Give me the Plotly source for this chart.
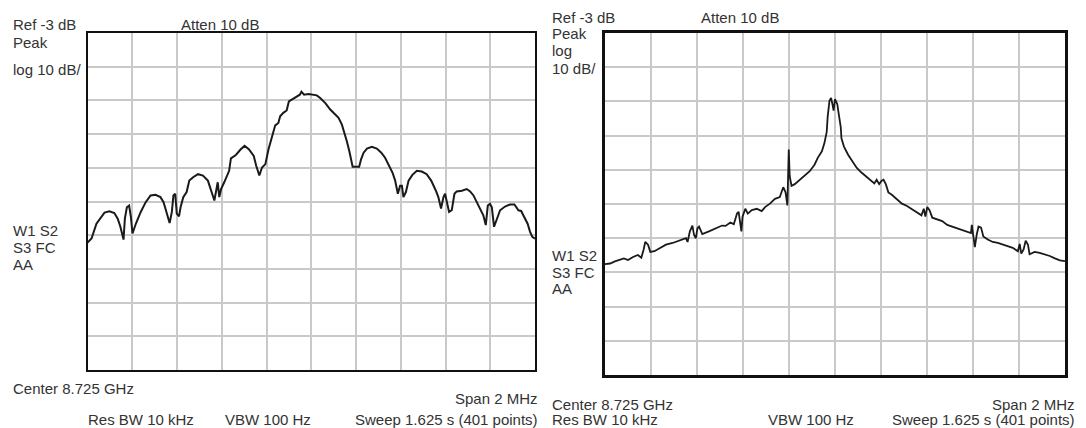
import plotly.graph_objects as go

W, H = 1086, 428

# ---- data (frequency offset from 8.725 GHz in MHz, level in dB) ----
left_freq = [-1.000, -0.982, -0.960, -0.938, -0.924, -0.902, -0.880, -0.865, -0.853, -0.839,
             -0.833, -0.824, -0.814, -0.806, -0.799, -0.784, -0.762, -0.740, -0.718, -0.696,
             -0.674, -0.660, -0.645, -0.633, -0.623, -0.616, -0.608, -0.601, -0.591, -0.584,
             -0.572, -0.557, -0.545, -0.528, -0.506, -0.484, -0.462, -0.447, -0.433, -0.425,
             -0.418, -0.411, -0.403, -0.389, -0.367, -0.359, -0.337, -0.315, -0.298, -0.279,
             -0.257, -0.246, -0.232, -0.220, -0.205, -0.191, -0.176, -0.161, -0.147, -0.139,
             -0.125, -0.110, -0.100, -0.073, -0.051, -0.044, -0.032, -0.012, 0.003, 0.025,
             0.040, 0.063, 0.085, 0.107, 0.122, 0.137, 0.149, 0.159, 0.170, 0.179,
             0.185, 0.196, 0.214, 0.223, 0.234, 0.249, 0.271, 0.293, 0.313, 0.330,
             0.348, 0.363, 0.375, 0.387, 0.397, 0.405, 0.412, 0.423, 0.435, 0.452,
             0.472, 0.494, 0.516, 0.536, 0.557, 0.568, 0.580, 0.591, 0.598, 0.607,
             0.616, 0.628, 0.640, 0.650, 0.673, 0.695, 0.710, 0.725, 0.740, 0.754,
             0.769, 0.780, 0.789, 0.799, 0.807, 0.817, 0.829, 0.844, 0.866, 0.888,
             0.908, 0.926, 0.938, 0.952, 0.967, 0.978, 0.988, 1.000]
left_level = [-65.2, -64.0, -59.6, -57.6, -56.3, -55.9, -56.4, -58.1, -60.5, -64.3,
              -58.1, -54.7, -54.2, -57.6, -62.5, -59.6, -56.1, -53.2, -51.2, -51.0,
              -51.7, -53.2, -56.6, -59.4, -56.1, -51.2, -50.7, -56.6, -57.4, -54.7,
              -51.7, -50.2, -46.8, -45.8, -44.9, -45.3, -46.8, -49.8, -52.7, -49.8,
              -47.3, -51.7, -49.3, -47.3, -43.9, -40.2, -39.2, -37.5, -36.5, -37.5,
              -39.5, -42.4, -45.3, -42.9, -41.9, -37.5, -34.1, -30.4, -29.7, -27.7,
              -26.7, -26.0, -23.3, -22.3, -21.3, -20.4, -21.3, -21.1, -21.3, -21.5,
              -22.3, -23.8, -25.7, -27.2, -28.2, -30.2, -32.6, -35.1, -38.0, -40.9,
              -42.7, -42.7, -42.7, -40.4, -38.5, -37.3, -36.8, -37.3, -38.5, -40.0,
              -42.4, -44.4, -46.8, -50.7, -48.3, -48.3, -51.7, -50.2, -46.8, -45.1,
              -43.9, -44.1, -44.9, -46.8, -49.8, -51.7, -55.1, -51.7, -50.7, -53.2,
              -56.1, -55.6, -50.7, -50.0, -49.8, -49.3, -50.0, -51.2, -53.2, -55.1,
              -57.1, -60.0, -54.2, -53.7, -54.7, -60.5, -58.1, -55.6, -54.5, -53.9,
              -53.9, -55.6, -55.8, -57.6, -59.6, -62.0, -63.5, -64.0]

right_freq = [-1.000, -0.978, -0.957, -0.935, -0.918, -0.900, -0.878, -0.857, -0.842, -0.832,
              -0.825, -0.813, -0.803, -0.785, -0.763, -0.735, -0.706, -0.677, -0.648, -0.641,
              -0.631, -0.620, -0.613, -0.605, -0.598, -0.591, -0.577, -0.548, -0.519, -0.491,
              -0.476, -0.455, -0.440, -0.426, -0.419, -0.412, -0.407, -0.402, -0.390, -0.379,
              -0.362, -0.340, -0.319, -0.304, -0.283, -0.261, -0.240, -0.225, -0.215, -0.207,
              -0.201, -0.197, -0.189, -0.175, -0.154, -0.132, -0.110, -0.089, -0.075, -0.057,
              -0.046, -0.036, -0.032, -0.024, -0.017, -0.010, -0.006, 0.000, 0.010, 0.016,
              0.025, 0.028, 0.039, 0.057, 0.075, 0.094, 0.115, 0.137, 0.159, 0.171,
              0.181, 0.192, 0.203, 0.211, 0.221, 0.232, 0.247, 0.269, 0.291, 0.313,
              0.335, 0.357, 0.376, 0.386, 0.393, 0.401, 0.411, 0.423, 0.444, 0.466,
              0.488, 0.510, 0.532, 0.554, 0.576, 0.591, 0.595, 0.601, 0.608, 0.616,
              0.624, 0.635, 0.645, 0.664, 0.686, 0.708, 0.730, 0.751, 0.773, 0.795,
              0.803, 0.810, 0.820, 0.829, 0.839, 0.846, 0.868, 0.890, 0.912, 0.934,
              0.956, 0.978, 1.000]
right_level = [-70.6, -70.4, -69.8, -69.2, -68.9, -69.4, -68.5, -67.9, -68.7, -66.3,
               -64.1, -64.9, -67.0, -66.8, -66.0, -64.9, -64.4, -63.7, -63.0, -64.1,
               -61.0, -59.3, -62.0, -63.0, -60.1, -59.6, -61.8, -61.0, -60.1, -59.3,
               -59.4, -58.4, -58.9, -55.8, -55.3, -59.1, -61.0, -56.7, -54.4, -55.8,
               -54.8, -54.4, -55.1, -53.9, -52.9, -51.5, -51.0, -48.1, -49.6, -53.4,
               -37.1, -44.8, -47.7, -47.2, -45.9, -44.8, -43.4, -41.5, -39.5, -37.6,
               -35.2, -31.9, -27.6, -22.8, -22.0, -24.2, -25.7, -22.3, -23.8, -26.6,
               -30.5, -33.8, -36.2, -38.6, -40.5, -42.4, -43.8, -45.0, -46.2, -47.0,
               -45.9, -47.2, -46.2, -45.9, -47.2, -49.6, -50.3, -51.7, -52.9, -53.6,
               -54.5, -55.5, -56.3, -54.4, -56.7, -53.9, -54.8, -57.0, -57.4, -58.0,
               -59.1, -59.6, -60.1, -60.6, -61.2, -61.5, -59.1, -62.0, -65.6, -62.0,
               -59.6, -59.9, -62.5, -63.4, -64.1, -64.4, -64.9, -65.4, -65.8, -66.8,
               -64.7, -67.5, -66.3, -63.7, -64.9, -67.7, -67.0, -67.3, -67.7, -68.2,
               -68.9, -69.5, -69.7]

x_range = [-1.0, 1.0]      # +/- 1 MHz (span 2 MHz)
y_range = [-103.0, -3.0]   # ref -3 dB, 10 dB/div

# ---- figure ----
fig = go.Figure()
fig.add_trace(go.Scatter(x=left_freq, y=left_level, mode="lines",
                         line=dict(color="#1a1a1a", width=2), xaxis="x", yaxis="y",
                         hoverinfo="skip", showlegend=False))
fig.add_trace(go.Scatter(x=right_freq, y=right_level, mode="lines",
                         line=dict(color="#1a1a1a", width=1.8), xaxis="x2", yaxis="y2",
                         hoverinfo="skip", showlegend=False))

def px(x):
    return x / W

def py(y):
    return 1 - y / H

grid = "#c9c9c9"
common_x = dict(range=x_range, dtick=0.2, tick0=-1, showgrid=True, gridcolor=grid, gridwidth=1.5,
                zeroline=False, showticklabels=False, ticks="", showline=True, mirror=True,
                linecolor="#111111", fixedrange=True)
common_y = dict(range=y_range, dtick=10, tick0=-3, showgrid=True, gridcolor=grid, gridwidth=1.5,
                zeroline=False, showticklabels=False, ticks="", showline=True, mirror=True,
                linecolor="#111111", fixedrange=True)

fig.update_layout(
    width=W, height=H,
    margin=dict(l=0, r=0, t=0, b=0),
    paper_bgcolor="white", plot_bgcolor="white",
    font=dict(family="Liberation Sans, Arial, sans-serif", size=15, color="#333333"),
    xaxis=dict(domain=[px(87.5), px(535)], anchor="y", linewidth=2, **common_x),
    yaxis=dict(domain=[py(370), py(33)], anchor="x", linewidth=2, **common_y),
    xaxis2=dict(domain=[px(605), px(1065)], anchor="y2", linewidth=3, **common_x),
    yaxis2=dict(domain=[py(375), py(33)], anchor="x2", linewidth=3, **common_y),
)

labels = [
    # left panel
    ("Ref -3 dB", 12, 24, "left"),
    ("Atten 10 dB", 180, 24, "left"),
    ("Peak", 12, 43, "left"),
    ("log 10 dB/", 12, 69, "left"),
    ("W1 S2", 12, 230, "left"),
    ("S3 FC", 12, 247, "left"),
    ("AA", 12, 264, "left"),
    ("Center 8.725 GHz", 12, 388, "left"),
    ("Span 2 MHz", 539, 398, "right"),
    ("Res BW 10 kHz", 87, 419, "left"),
    ("VBW 100 Hz", 224, 419, "left"),
    ("Sweep 1.625 s (401 points)", 539, 419, "right"),
    # right panel
    ("Ref -3 dB", 551, 17, "left"),
    ("Atten 10 dB", 700, 17, "left"),
    ("Peak", 551, 34, "left"),
    ("log", 551, 51, "left"),
    ("10 dB/", 551, 68, "left"),
    ("W1 S2", 551, 256, "left"),
    ("S3 FC", 551, 272, "left"),
    ("AA", 551, 288, "left"),
    ("Center 8.725 GHz", 551, 404, "left"),
    ("Span 2 MHz", 1076, 404, "right"),
    ("Res BW 10 kHz", 551, 419, "left"),
    ("VBW 100 Hz", 767, 419, "left"),
    ("Sweep 1.625 s (401 points)", 1076, 419, "right"),
]
for text, x, y, anchor in labels:
    fig.add_annotation(text=text, x=px(x), y=py(y), xref="paper", yref="paper",
                       xanchor=anchor, yanchor="middle", showarrow=False,
                       borderpad=0)

fig.write_html("out.html")
